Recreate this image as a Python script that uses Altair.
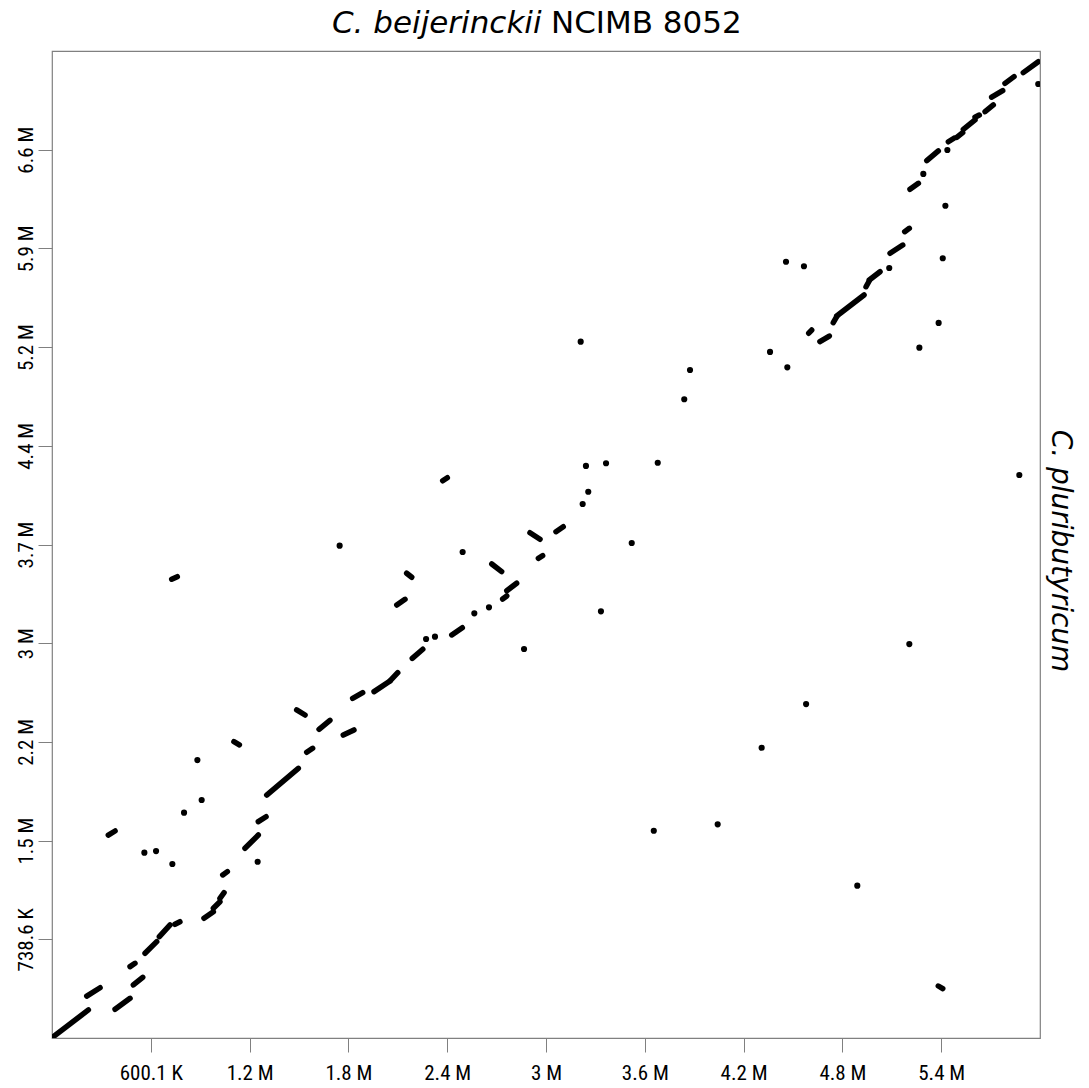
import altair as alt
import pandas as pd

# genome lengths (Mb)
x_len = 6.000632
y_len = 7.386

x_tick_values = [0.6001, 1.2001, 1.8002, 2.4003, 3.0003, 3.6004, 4.2004, 4.8005, 5.4006]
x_tick_labels = ["600.1 K", "1.2 M", "1.8 M", "2.4 M", "3 M", "3.6 M", "4.2 M", "4.8 M", "5.4 M"]
y_tick_values = [0.7386, 1.4772, 2.2158, 2.9544, 3.6930, 4.4316, 5.1702, 5.9088, 6.6474]
y_tick_labels = ["738.6 K", "1.5 M", "2.2 M", "3 M", "3.7 M", "4.4 M", "5.2 M", "5.9 M", "6.6 M"]

title_italic = "C. beijerinckii"
title_plain = "NCIMB 8052"
right_label = "C. pluributyricum"

# alignment segments (Mb): start x, start y, end x, end y
seg_x1 = [0.008, 0.211, 0.383, 0.474, 0.494, 0.565, 0.652, 0.747, 0.923, 0.980,
          1.020, 1.037, 1.172, 1.253, 1.304, 1.547, 1.622, 1.769, 1.486, 1.826,
          1.956, 2.053, 2.188, 2.428, 2.737, 2.762, 2.671, 2.094, 2.154, 2.373,
          2.903, 2.954, 3.061, 0.727, 0.342, 1.105, 5.383, 4.596, 4.664, 4.745,
          4.766, 4.944, 4.964, 5.090, 5.179, 5.211, 5.313, 5.444, 5.495, 5.535,
          5.606, 5.667, 5.707, 5.788, 5.899]
seg_y1 = [0.010, 0.314, 0.215, 0.534, 0.397, 0.634, 0.758, 0.851, 0.896, 0.971,
          1.045, 1.220, 1.420, 1.619, 1.818, 2.138, 2.310, 2.267, 2.455, 2.542,
          2.592, 2.672, 2.841, 3.016, 3.285, 3.347, 3.547, 3.240, 3.478, 4.170,
          3.781, 3.590, 3.789, 3.433, 1.519, 2.217, 0.389, 5.274, 5.211, 5.353,
          5.403, 5.622, 5.672, 5.872, 6.034, 6.351, 6.565, 6.707, 6.740, 6.800,
          6.890, 6.932, 7.040, 7.144, 7.224]
seg_x2 = [0.221, 0.292, 0.474, 0.504, 0.551, 0.636, 0.717, 0.777, 0.980, 1.020,
          1.045, 1.065, 1.253, 1.300, 1.496, 1.583, 1.688, 1.834, 1.537, 1.887,
          2.053, 2.100, 2.252, 2.492, 2.762, 2.822, 2.731, 2.144, 2.185, 2.401,
          2.964, 2.980, 3.105, 0.761, 0.383, 1.138, 5.410, 4.614, 4.721, 4.766,
          4.932, 4.964, 5.029, 5.167, 5.207, 5.262, 5.383, 5.478, 5.531, 5.606,
          5.632, 5.717, 5.774, 5.843, 5.990]
seg_y2 = [0.210, 0.376, 0.297, 0.559, 0.454, 0.721, 0.846, 0.870, 0.945, 1.020,
          1.087, 1.245, 1.519, 1.656, 2.018, 2.168, 2.377, 2.305, 2.417, 2.584,
          2.672, 2.734, 2.909, 3.070, 3.308, 3.403, 3.490, 3.283, 3.448, 4.193,
          3.732, 3.609, 3.826, 3.452, 1.549, 2.193, 0.369, 5.298, 5.253, 5.398,
          5.560, 5.667, 5.734, 5.934, 6.059, 6.396, 6.638, 6.733, 6.775, 6.870,
          6.907, 6.982, 7.089, 7.194, 7.306]

# short alignments drawn as dots (Mb)
dot_x = [0.561, 0.632, 0.731, 0.802, 0.883, 0.909, 1.249, 1.747, 2.494, 2.272,
         2.326, 2.565, 2.654, 2.867, 3.223, 3.257, 3.243, 3.365, 3.334, 3.521,
         3.679, 3.840, 3.875, 3.211, 4.361, 4.466, 4.458, 4.567, 5.085, 5.292,
         5.438, 5.990, 5.410, 5.426, 5.385, 5.268, 5.875, 5.207, 4.580, 3.655,
         4.043, 4.310, 4.891]
dot_y = [1.387, 1.399, 1.302, 1.686, 2.080, 1.781, 1.319, 3.684, 3.637, 2.986,
         3.003, 3.178, 3.223, 2.911, 3.996, 4.088, 4.281, 4.301, 3.193, 3.704,
         4.305, 4.780, 4.999, 5.211, 5.134, 5.019, 5.809, 5.775, 5.762, 6.466,
         6.645, 7.139, 5.835, 6.228, 5.351, 5.166, 4.213, 2.948, 2.499, 1.551,
         1.599, 2.172, 1.140]

segs = pd.DataFrame({"x1": seg_x1, "y1": seg_y1, "x2": seg_x2, "y2": seg_y2})
dots = pd.DataFrame({"x": dot_x, "y": dot_y})

def label_expr(labels, step):
    arr = "[" + ",".join("'" + l + "'" for l in labels) + "]"
    return arr + "[round(datum.value / " + str(step) + ") - 1]"

tick_font = "Liberation Sans Narrow, Roboto Condensed, Roboto, sans-serif"
gray = "#808080"

xs = alt.Scale(domain=[0, x_len], nice=False, zero=False)
ys = alt.Scale(domain=[0, y_len], nice=False, zero=False)

xaxis = alt.Axis(values=x_tick_values, labelExpr=label_expr(x_tick_labels, 0.6000632),
                 title=None, grid=False, domain=False, tickSize=14, tickColor=gray,
                 tickWidth=1, labelFont=tick_font, labelFontSize=21, labelColor="black",
                 labelPadding=10, labelBaseline="top", labelAlign="center",
                 labelFlush=False, labelOverlap=False)
yaxis = alt.Axis(values=y_tick_values, labelExpr=label_expr(y_tick_labels, 0.7386),
                 title=None, grid=False, domain=False, tickSize=14, tickColor=gray,
                 tickWidth=1, labelFont=tick_font, labelFontSize=21, labelColor="black",
                 labelPadding=6, labelAngle=270, labelAlign="center",
                 labelBaseline="alphabetic", labelFlush=False, labelOverlap=False)

seg_layer = alt.Chart(segs).mark_rule(
    strokeWidth=5.5, strokeCap="round", color="black", clip=True
).encode(
    x=alt.X("x1:Q", scale=xs, axis=xaxis),
    y=alt.Y("y1:Q", scale=ys, axis=yaxis),
    x2="x2:Q",
    y2="y2:Q",
)

dot_layer = alt.Chart(dots).mark_circle(
    size=38, color="black", opacity=1, clip=True
).encode(
    x=alt.X("x:Q", scale=xs),
    y=alt.Y("y:Q", scale=ys),
)

t1 = alt.Chart(pd.DataFrame({"t": [title_italic]})).mark_text(
    font="DejaVu Sans", fontStyle="italic", fontSize=31, align="right",
    baseline="alphabetic", color="black"
).encode(text="t:N", x=alt.value(489.6), y=alt.value(-18))

t2 = alt.Chart(pd.DataFrame({"t": [title_plain]})).mark_text(
    font="DejaVu Sans", fontSize=31, align="left",
    baseline="alphabetic", color="black"
).encode(text="t:N", x=alt.value(499), y=alt.value(-18))

t3 = alt.Chart(pd.DataFrame({"t": [right_label]})).mark_text(
    font="DejaVu Sans", fontStyle="italic", fontSize=28, align="center",
    baseline="middle", angle=90, color="black"
).encode(text="t:N", x=alt.value(1008), y=alt.value(500))

chart = alt.layer(seg_layer, dot_layer, t1, t2, t3).properties(
    width=988, height=987,
    padding={"left": 52, "top": 51, "right": 49, "bottom": 50},
    autosize=alt.AutoSizeParams(type="none"),
    background="white",
).configure_view(stroke=gray, strokeWidth=1.2)

chart.save("out.html", embed_options={"renderer": "svg", "actions": False})
